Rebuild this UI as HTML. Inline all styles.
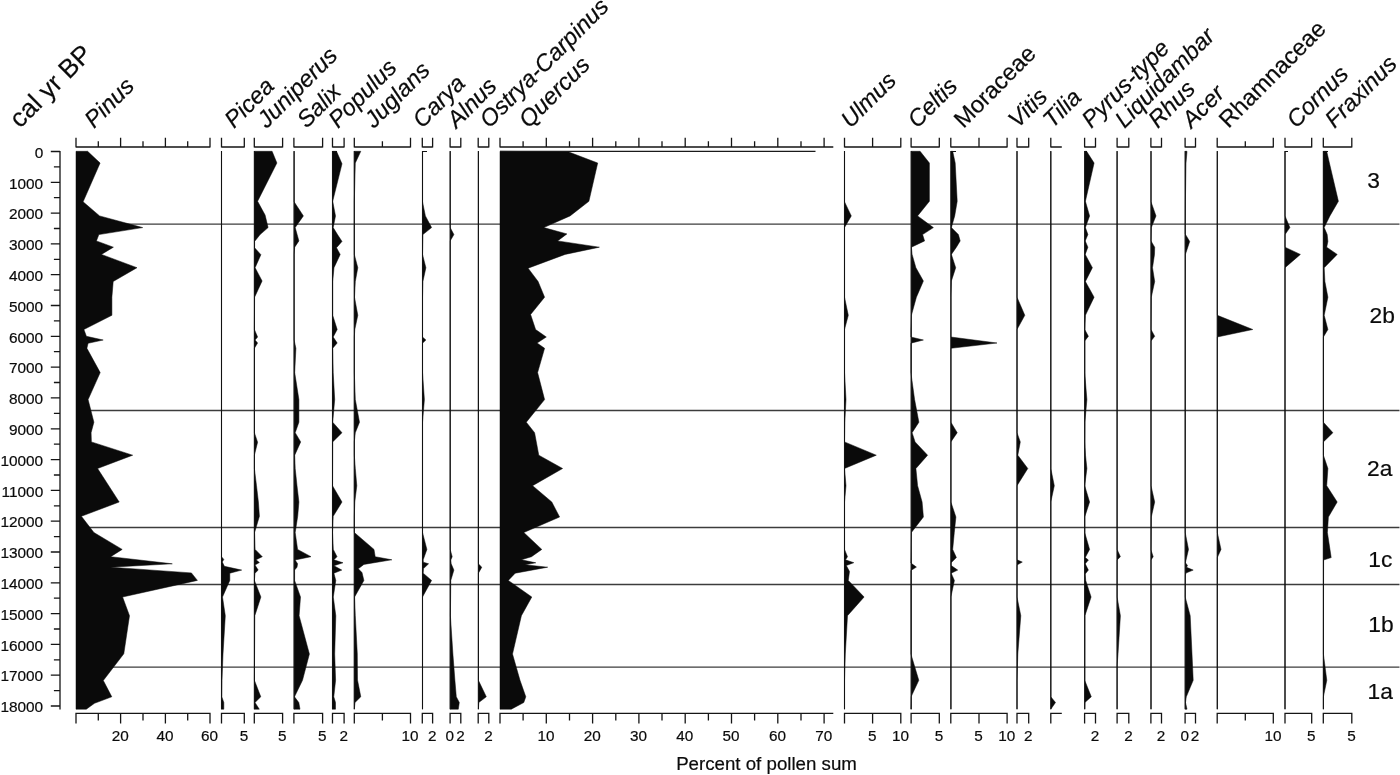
<!DOCTYPE html>
<html lang="en"><head><meta charset="utf-8"><title>Pollen percentage diagram</title>
<style>
html,body{margin:0;padding:0;background:#fff;}
body{width:1400px;height:775px;overflow:hidden;font-family:"Liberation Sans",sans-serif;}
svg{display:block;}
svg text{font-family:"Liberation Sans",sans-serif;fill:#0b0b0b;stroke:#0b0b0b;stroke-width:0.2px;}
.ax{stroke:#151515;stroke-width:1.3;fill:none;}
.bl{stroke:#111;stroke-width:1.1;fill:none;}
.zn{stroke:#3c3c3c;stroke-width:1.45;fill:none;}
.fl{fill:#0a0a0a;stroke:#0a0a0a;stroke-width:0.5;stroke-linejoin:miter;}
.num{font-size:15.3px;text-anchor:middle;}
.yl{font-size:15.4px;text-anchor:end;}
.zl{font-size:22.8px;text-anchor:middle;}
.tx{font-size:22px;}
.it{font-style:italic;}
</style></head><body>
<svg width="1400" height="775" viewBox="0 0 1400 775">
<rect x="0" y="0" width="1400" height="775" fill="#ffffff"/>
<g class="zn">
<path d="M76 224.1 H1399.5"/>
<path d="M76 410.4 H1399.5"/>
<path d="M76 527.5 H1399.5"/>
<path d="M76 584.5 H1399.5"/>
<path d="M76 667.1 H1399.5"/>
</g>
<g class="ax">
<path d="M60 150.9 V709.5 M50.8 151.5 H60 M53.9 166.9 H60 M50.8 182.3 H60 M53.9 197.7 H60 M50.8 213.1 H60 M53.9 228.5 H60 M50.8 243.9 H60 M53.9 259.3 H60 M50.8 274.7 H60 M53.9 290.1 H60 M50.8 305.5 H60 M53.9 320.9 H60 M50.8 336.3 H60 M53.9 351.7 H60 M50.8 367.1 H60 M53.9 382.5 H60 M50.8 397.9 H60 M53.9 413.3 H60 M50.8 428.8 H60 M53.9 444.2 H60 M50.8 459.6 H60 M53.9 475 H60 M50.8 490.4 H60 M53.9 505.8 H60 M50.8 521.2 H60 M53.9 536.6 H60 M50.8 552 H60 M53.9 567.4 H60 M50.8 582.8 H60 M53.9 598.2 H60 M50.8 613.6 H60 M53.9 629 H60 M50.8 644.4 H60 M53.9 659.8 H60 M50.8 675.2 H60 M53.9 690.6 H60 M50.8 706 H60"/>
</g>
<g class="yl">
<text x="43.2" y="157.7">0</text>
<text x="43.2" y="188.5">1000</text>
<text x="43.2" y="219.3">2000</text>
<text x="43.2" y="250.1">3000</text>
<text x="43.2" y="280.9">4000</text>
<text x="43.2" y="311.7">5000</text>
<text x="43.2" y="342.5">6000</text>
<text x="43.2" y="373.3">7000</text>
<text x="43.2" y="404.1">8000</text>
<text x="43.2" y="434.9">9000</text>
<text x="43.2" y="465.8">10000</text>
<text x="43.2" y="496.6">11000</text>
<text x="43.2" y="527.4">12000</text>
<text x="43.2" y="558.2">13000</text>
<text x="43.2" y="589">14000</text>
<text x="43.2" y="619.8">15000</text>
<text x="43.2" y="650.6">16000</text>
<text x="43.2" y="681.4">17000</text>
<text x="43.2" y="712.2">18000</text>
</g>
<path class="fl" d="M76 151.3 L87.6 151.3 L100.1 163 L83.1 201.8 L99.6 215.9 L142.7 227.6 L98.9 234.6 L96.4 240.9 L113.4 247.2 L101.4 254.4 L137 267.7 L113.2 281.5 L111.9 297.2 L111.9 315.3 L83.9 329.5 L86.4 336.3 L103.2 340 L88.1 343.3 L86.9 348.3 L100.2 372.6 L88.1 399.6 L93.9 422.2 L91.1 432.7 L91.4 441.9 L132.7 455.2 L97.6 468.5 L119.2 502 L81.4 516.3 L93.9 532.5 L122.2 549.4 L110.7 556.7 L172.3 563.8 L110.7 567.2 L191.4 572.9 L197.4 580.4 L122.6 597 L129.5 615.7 L123.8 653.8 L103.3 680.5 L111.8 696.8 L94.5 703.3 L86.3 709.2 L76 709.2 Z"/>
<path class="fl" d="M221.5 151.3 L221.5 151.3 L221.5 556.7 L223.8 559.4 L222.3 562 L224.4 566.3 L241.7 570.1 L229.8 573.2 L229.8 580.4 L222.5 597 L225.3 615.7 L223 654 L222 680.3 L221.8 696.8 L223.8 702.5 L223.8 709.2 L221.5 709.2 Z"/>
<path class="bl" d="M221.5 151 V709.2"/>
<path class="fl" d="M254.4 151.3 L272.1 151.3 L276.9 163 L257.6 201.3 L265.1 215.1 L268.1 227.6 L260.1 234.6 L254.6 241.4 L254.6 247.7 L260.9 254.7 L255.1 267.7 L262.1 281 L254.6 297.2 L254.4 329.5 L257.6 337 L255.1 340 L257.6 343 L254.4 348.3 L254.4 432.7 L257.6 442.2 L254.4 455.2 L254.4 468.5 L256.5 485.7 L258.4 502 L259.4 516.3 L254.6 532.5 L255.1 549.4 L262.3 556.7 L256 559.8 L259.4 562.5 L255 565 L258.2 570.1 L255 573.2 L254.4 580.4 L260.9 597 L254.8 615.7 L254.4 680.3 L260.8 696.8 L255 702.5 L259.3 709.2 L254.4 709.2 Z"/>
<path class="bl" d="M254.4 151 V709.2"/>
<path class="fl" d="M294.1 151.3 L294.1 151.3 L294.1 201.8 L303.4 215.9 L295.2 227.6 L298.9 240.9 L294.7 247.2 L294.1 254.4 L294.1 340 L295.9 348.3 L294.7 372.6 L298.9 399.6 L298.9 422.2 L295.2 432.7 L300.7 441.9 L294.7 455.2 L295.2 468.5 L297 485.7 L298.9 502 L297.7 516.3 L295.2 532.5 L297.6 549.4 L311 556.7 L295.1 560 L297.6 563.8 L297 567.2 L294.6 570.1 L294.6 580.4 L300.5 597 L299.1 615.7 L309.4 654 L302.5 680.3 L294.5 696.8 L298.8 702.5 L300 709.2 L294.1 709.2 Z"/>
<path class="bl" d="M294.1 151 V709.2"/>
<path class="fl" d="M332.5 151.3 L336.5 151.3 L342 163.8 L332.7 201.3 L335.5 215.9 L333.2 227.6 L337.5 234.6 L342 241.4 L336.5 247.7 L340.2 254.4 L334 267.7 L332.7 281.5 L332.7 315.3 L337.2 329.5 L333.2 337 L337.2 343 L332.7 348.3 L333.2 372.6 L334.7 399.6 L332.7 422.2 L342 432.7 L332.7 441.9 L332.5 485.7 L342 502 L333.2 516.3 L332.5 532.5 L333.3 549.4 L337 556.7 L333.9 559.8 L343 562.8 L333.9 565.7 L341.8 570.1 L333.9 573.2 L335.8 580.4 L333.3 597 L335.8 615.7 L334.7 654 L335.6 680.3 L333.8 696.8 L335.5 702.5 L335.5 709.2 L332.5 709.2 Z"/>
<path class="bl" d="M332.5 151 V709.2"/>
<path class="fl" d="M354.3 151.3 L360.8 151.3 L355.3 163 L354.3 201.8 L354.3 254.4 L357.8 267.7 L355.3 281.5 L354.5 297.2 L357.8 315.3 L354.8 329.5 L354.3 337 L354.3 372.6 L355.3 399.6 L359.5 422.2 L355.3 432.7 L354.3 441.9 L354.3 455.2 L355.3 468.5 L356.8 485.7 L354.8 502 L354.3 516.7 L354.3 532.5 L374 549.4 L375.2 556.7 L391.9 559.8 L363.9 564.4 L358.3 568.8 L362 572.6 L363.9 580.4 L354.6 597 L355.3 615.7 L357.3 654 L357.5 680 L360.8 696.8 L355 702.5 L354.3 709.2 L354.3 709.2 Z"/>
<path class="bl" d="M354.3 151 V709.2"/>
<path class="fl" d="M422.5 151.3 L422.5 151.3 L422.5 201.8 L425.4 215.9 L431.6 227.6 L422.9 234.6 L422.5 254.4 L425.9 267.7 L422.9 281.5 L422.5 297.2 L422.5 337 L425.9 340 L422.5 343.2 L422.5 372.6 L424.4 399.6 L422.5 422.2 L422.5 532.5 L426.9 549.4 L423.2 559.8 L423.3 562.2 L428.6 563.8 L423.5 568.6 L423.2 573.2 L431.6 580.4 L422.5 597 L422.5 709.2 L422.5 709.2 Z"/>
<path class="bl" d="M422.5 151 V709.2"/>
<path class="fl" d="M450.2 151.3 L450.2 151.3 L450.2 227.6 L453.9 234.6 L450.2 240.9 L450.2 549.4 L452.2 556.7 L450.8 560 L451.2 563.8 L453.9 570.1 L450.8 580.4 L450.4 615.7 L452.9 654 L454.9 680.3 L456.3 696.8 L459.3 702.5 L458.3 709.2 L450.2 709.2 Z"/>
<path class="bl" d="M450.2 151 V709.2"/>
<path class="fl" d="M478.4 151.3 L478.4 151.3 L478.4 563.8 L481.8 567.2 L478.4 573.2 L478.4 680.3 L486.3 696.8 L478.8 702.5 L478.4 709.2 L478.4 709.2 Z"/>
<path class="bl" d="M478.4 151 V709.2"/>
<path class="fl" d="M500 151.3 L568.9 152 L597.7 163 L588.9 201.3 L570.1 215.9 L543.8 227.6 L566.9 233.9 L557.6 240.9 L599.4 247.2 L565.1 254.4 L528.1 268.2 L538.1 281.5 L544.6 297.2 L530.6 314.5 L535.6 329.5 L546.3 337 L537.1 343 L544.6 348.3 L537.6 372.6 L544.6 399.6 L526.3 422.2 L534.6 432.7 L538.8 455.2 L562.6 468.5 L532.6 485.7 L551.8 502 L559.6 517 L523.8 532.5 L541.8 549.4 L531.5 556.7 L521.4 559.8 L535.8 562.8 L525.2 564.8 L547.7 567.2 L515.2 573.2 L508.3 580.4 L531.8 597 L521.4 615.7 L512.5 654 L520 680.3 L525.8 696.8 L523.8 702.5 L511.3 709.2 L500 709.2 Z"/>
<path class="fl" d="M844.5 151.3 L844.5 151.3 L844.5 201.8 L851.3 215.9 L844.5 227.6 L844.5 297.2 L848.3 315.3 L844.5 329.5 L844.5 372.6 L846 399.6 L844.8 422.2 L844.5 441.9 L876.3 455.2 L844.5 468.5 L846 485.7 L844.5 502 L844.5 549.4 L847.5 556.7 L845.5 559.8 L853.8 562.7 L846.3 565.5 L849.5 571.4 L848.3 580.4 L864.1 597 L847.5 615.7 L845.3 654 L844.5 680.3 L844.5 709.2 L844.5 709.2 Z"/>
<path class="bl" d="M844.5 151 V709.2"/>
<path class="fl" d="M911.2 151.3 L920.1 151.3 L929.4 163 L929.4 201.3 L917.6 215.9 L933.4 227.6 L922.6 234.6 L924.6 240.9 L911.4 247.2 L912.1 254.4 L915.9 267.7 L923.4 281 L916.4 297.2 L911.4 315.3 L910.9 329.5 L910.9 337 L923.4 340 L910.9 343.2 L910.9 372.6 L914.6 399.6 L918.9 422.2 L912.1 432.7 L915.1 441.9 L927.6 455.2 L915.9 468.5 L917.6 485.7 L922.1 502 L923.4 517 L911.4 532.5 L910.9 563 L916.4 567.1 L910.9 570.5 L910.9 654 L918.8 680.3 L911.1 696.8 L910.9 709.2 L911.2 709.2 Z"/>
<path class="bl" d="M911.2 151 V709.2"/>
<path class="fl" d="M950.9 151.3 L952.7 151.3 L955.2 163 L957.2 201.3 L954.7 215.9 L951.4 227.6 L958.4 234.6 L960.2 240.9 L956.4 247.2 L951.4 254.4 L955.7 267.7 L951.4 281 L950.9 297.2 L950.9 337 L997 343 L950.9 348.3 L950.9 422.2 L957.2 432.7 L950.9 441.9 L950.9 502 L955.9 517 L954.3 532.5 L952.7 549.4 L956.4 557.6 L951.2 562.7 L951.2 565.5 L957.7 570.1 L951.2 573.2 L954.4 580.4 L950.9 597 L950.9 709.2 L950.9 709.2 Z"/>
<path class="bl" d="M950.9 151 V709.2"/>
<path class="fl" d="M1017 151.3 L1017 151.3 L1017 297.2 L1024.8 315.3 L1017 329.5 L1017 432.7 L1020.3 441.9 L1017.8 455.2 L1027.8 468.5 L1017 485.7 L1017 559.8 L1022.3 562.1 L1017 565 L1017 597 L1020.8 615.7 L1017.8 654 L1017 680.3 L1017 709.2 L1017 709.2 Z"/>
<path class="bl" d="M1017 151 V709.2"/>
<path class="fl" d="M1050.8 151.3 L1050.8 151.3 L1050.8 468.5 L1054.3 485.7 L1050.8 502 L1050.8 696.8 L1055.5 702.5 L1050.8 709.2 L1050.8 709.2 Z"/>
<path class="bl" d="M1050.8 151 V709.2"/>
<path class="fl" d="M1084.7 151.3 L1086.6 151.3 L1094.1 163 L1085.4 201.3 L1089.6 215.9 L1085.4 227.6 L1087.9 234.6 L1085.2 240.9 L1087.9 247.2 L1085.2 254.4 L1092.4 267.7 L1085.4 281.5 L1094.1 297.2 L1085.4 315.3 L1084.7 329.5 L1088.4 336.3 L1084.7 341 L1084.7 372.6 L1086.9 399.6 L1084.9 422.2 L1084.7 441.9 L1085.5 455.2 L1086.9 468.5 L1084.7 485.7 L1089.6 502 L1084.7 517 L1084.7 532.5 L1089.6 549.4 L1085.2 557.6 L1088.4 560 L1085.2 563.8 L1088.4 570.1 L1085.2 574 L1085.7 580.4 L1091.1 597 L1084.9 615.7 L1084.7 680.3 L1091.3 696.8 L1084.9 702.5 L1084.7 709.2 L1084.7 709.2 Z"/>
<path class="bl" d="M1084.7 151 V709.2"/>
<path class="fl" d="M1117.1 151.3 L1117.1 151.3 L1117.1 549.4 L1120.4 556.7 L1117.1 560 L1117.1 597 L1120.4 615.7 L1118 654 L1117.1 665 L1117.1 709.2 L1117.1 709.2 Z"/>
<path class="bl" d="M1117.1 151 V709.2"/>
<path class="fl" d="M1151 151.3 L1151 151.3 L1151 201.8 L1156 215.9 L1151.3 227.6 L1151 240.9 L1154.7 247.2 L1154.5 254.4 L1152.5 267.7 L1154.7 281.5 L1151.3 297.2 L1151 329.5 L1154.7 336.3 L1151 341 L1151 485.7 L1154.7 502 L1151.3 517 L1151 550 L1153.2 556.7 L1151 560 L1151 709.2 L1151 709.2 Z"/>
<path class="bl" d="M1151 151 V709.2"/>
<path class="fl" d="M1185.2 151.3 L1187 151.3 L1186 163 L1185.4 201.8 L1185.2 234 L1189.7 241.4 L1185.4 254.4 L1185.2 532.5 L1188.5 549.4 L1185.4 562.7 L1187.5 565.5 L1186.5 567.3 L1193.2 570.1 L1186 573 L1185.4 575 L1185.2 597 L1190.2 615.7 L1192 654 L1193.2 680.3 L1186.3 696.8 L1185.5 702.5 L1187 709.2 L1185.2 709.2 Z"/>
<path class="bl" d="M1185.2 151 V709.2"/>
<path class="fl" d="M1217.3 151.3 L1217.3 151.3 L1217.3 315.3 L1252.8 329.5 L1217.3 337 L1217.3 532.5 L1221 549.4 L1217.3 557.6 L1217.3 709.2 L1217.3 709.2 Z"/>
<path class="bl" d="M1217.3 151 V709.2"/>
<path class="fl" d="M1285 151.3 L1285 151.3 L1285 215.9 L1289.9 227.6 L1285 234.6 L1285 247.2 L1300.4 254.4 L1285 267.7 L1285 709.2 L1285 709.2 Z"/>
<path class="bl" d="M1285 151 V709.2"/>
<path class="fl" d="M1323.4 151.3 L1326.7 151.3 L1329.4 163 L1338.4 201.3 L1329.9 215.9 L1324.2 227.6 L1327.2 234.6 L1327.9 241.4 L1326.7 247.2 L1337.2 254.4 L1324.2 267.7 L1324.9 281.5 L1327.9 297.2 L1324.2 315.3 L1327.9 329.5 L1323.4 337 L1323.4 422.2 L1332.9 432.7 L1323.4 441.9 L1323.4 455.2 L1327.9 468.5 L1326.7 485.7 L1337.2 502 L1328.4 517 L1327.4 532.5 L1331.2 557.6 L1323.6 560 L1323.4 654 L1326.8 680.3 L1323.4 696.8 L1323.4 709.2 L1323.4 709.2 Z"/>
<path class="bl" d="M1323.4 151 V709.2"/>
<path class="bl" d="M422.5 151.5 H427 M950.9 151.5 H956 M1285 151.5 H1288 M1323.4 151.5 H1328 M332.5 151.5 H337 M1084.7 151.5 H1087"/>
<path d="M500 150.7 H815.5 V151.9 H500 Z" fill="#1a1a1a"/>
<path class="ax" d="M76 147 H210 M76 147.5 V137.8 M98.3 147.5 V141.2 M120.6 147.5 V137.8 M143 147.5 V141.2 M165.4 147.5 V137.8 M187.7 147.5 V141.2 M210 147.5 V137.8 M221.5 147 H244.3 M221.5 147.5 V137.8 M244.3 147.5 V137.8 M254.3 147 H282.6 M254.3 147.5 V137.8 M282.6 147.5 V137.8 M293.9 147 H322.6 M293.9 147.5 V137.8 M322.6 147.5 V137.8 M332.5 147 H344.1 M332.5 147.5 V137.8 M344.1 147.5 V137.8 M354.3 147 H410.5 M354.3 147.5 V137.8 M382.4 147.5 V141.2 M410.5 147.5 V137.8 M422.3 147 H432.6 M422.3 147.5 V137.8 M432.6 147.5 V137.8 M450.1 147 H460.8 M450.1 147.5 V137.8 M460.8 147.5 V137.8 M478.2 147 H488.8 M478.2 147.5 V137.8 M488.8 147.5 V137.8 M500 147 H833.3 M500 147.5 V137.8 M523.1 147.5 V141.2 M546.3 147.5 V137.8 M569.5 147.5 V141.2 M592.6 147.5 V137.8 M615.8 147.5 V141.2 M638.9 147.5 V137.8 M662 147.5 V141.2 M685.2 147.5 V137.8 M708.4 147.5 V141.2 M731.5 147.5 V137.8 M754.6 147.5 V141.2 M777.8 147.5 V137.8 M801 147.5 V141.2 M824.1 147.5 V137.8 M844.5 147 H900.8 M844.5 147.5 V137.8 M872.6 147.5 V137.8 M900.8 147.5 V137.8 M911.1 147 H939.3 M911.1 147.5 V137.8 M939.3 147.5 V137.8 M950.8 147 H1007.1 M950.8 147.5 V137.8 M979 147.5 V137.8 M1007.1 147.5 V137.8 M1017 147 H1028.7 M1017 147.5 V137.8 M1028.7 147.5 V137.8 M1050.8 147 H1061.8 M1050.8 147.5 V137.8 M1084.6 147 H1095.5 M1084.6 147.5 V137.8 M1095.5 147.5 V137.8 M1117.1 147 H1128.8 M1117.1 147.5 V137.8 M1128.8 147.5 V137.8 M1150.9 147 H1161.5 M1150.9 147.5 V137.8 M1161.5 147.5 V137.8 M1185.1 147 H1195.5 M1185.1 147.5 V137.8 M1195.5 147.5 V137.8 M1217.2 147 H1273.3 M1217.2 147.5 V137.8 M1245.3 147.5 V141.2 M1273.3 147.5 V137.8 M1285 147 H1311.7 M1285 147.5 V137.8 M1311.7 147.5 V137.8 M1323.3 147 H1351.8 M1323.3 147.5 V137.8 M1351.8 147.5 V137.8"/>
<path class="ax" d="M76 713.3 H210 M76 712.8 V723.6 M98.3 712.8 V720.5 M120.6 712.8 V723.6 M143 712.8 V720.5 M165.4 712.8 V723.6 M187.7 712.8 V720.5 M210 712.8 V723.6 M221.5 713.3 H244.3 M221.5 712.8 V723.6 M244.3 712.8 V723.6 M254.3 713.3 H282.6 M254.3 712.8 V723.6 M282.6 712.8 V723.6 M293.9 713.3 H322.6 M293.9 712.8 V723.6 M322.6 712.8 V723.6 M332.5 713.3 H344.1 M332.5 712.8 V723.6 M344.1 712.8 V723.6 M354.3 713.3 H410.5 M354.3 712.8 V723.6 M382.4 712.8 V720.5 M410.5 712.8 V723.6 M422.3 713.3 H432.6 M422.3 712.8 V723.6 M432.6 712.8 V723.6 M450.1 713.3 H460.8 M450.1 712.8 V723.6 M460.8 712.8 V723.6 M478.2 713.3 H488.8 M478.2 712.8 V723.6 M488.8 712.8 V723.6 M500 713.3 H833.3 M500 712.8 V723.6 M523.1 712.8 V720.5 M546.3 712.8 V723.6 M569.5 712.8 V720.5 M592.6 712.8 V723.6 M615.8 712.8 V720.5 M638.9 712.8 V723.6 M662 712.8 V720.5 M685.2 712.8 V723.6 M708.4 712.8 V720.5 M731.5 712.8 V723.6 M754.6 712.8 V720.5 M777.8 712.8 V723.6 M801 712.8 V720.5 M824.1 712.8 V723.6 M844.5 713.3 H900.8 M844.5 712.8 V723.6 M872.6 712.8 V723.6 M900.8 712.8 V723.6 M911.1 713.3 H939.3 M911.1 712.8 V723.6 M939.3 712.8 V723.6 M950.8 713.3 H1007.1 M950.8 712.8 V723.6 M979 712.8 V723.6 M1007.1 712.8 V723.6 M1017 713.3 H1028.7 M1017 712.8 V723.6 M1028.7 712.8 V723.6 M1050.8 713.3 H1061.8 M1050.8 712.8 V723.6 M1084.6 713.3 H1095.5 M1084.6 712.8 V723.6 M1095.5 712.8 V723.6 M1117.1 713.3 H1128.8 M1117.1 712.8 V723.6 M1128.8 712.8 V723.6 M1150.9 713.3 H1161.5 M1150.9 712.8 V723.6 M1161.5 712.8 V723.6 M1185.1 713.3 H1195.5 M1185.1 712.8 V723.6 M1195.5 712.8 V723.6 M1217.2 713.3 H1273.3 M1217.2 712.8 V723.6 M1245.3 712.8 V720.5 M1273.3 712.8 V723.6 M1285 713.3 H1311.7 M1285 712.8 V723.6 M1311.7 712.8 V723.6 M1323.3 713.3 H1351.8 M1323.3 712.8 V723.6 M1351.8 712.8 V723.6"/>
<g class="num">
<text x="120.2" y="741.4">20</text>
<text x="165" y="741.4">40</text>
<text x="209.6" y="741.4">60</text>
<text x="243.9" y="741.4">5</text>
<text x="282.2" y="741.4">5</text>
<text x="322.2" y="741.4">5</text>
<text x="343.7" y="741.4">2</text>
<text x="410.1" y="741.4">10</text>
<text x="432.2" y="741.4">2</text>
<text x="449.7" y="741.4">0</text>
<text x="460.4" y="741.4">2</text>
<text x="488.4" y="741.4">2</text>
<text x="545.9" y="741.4">10</text>
<text x="592.2" y="741.4">20</text>
<text x="638.5" y="741.4">30</text>
<text x="684.8" y="741.4">40</text>
<text x="731.1" y="741.4">50</text>
<text x="777.4" y="741.4">60</text>
<text x="823.7" y="741.4">70</text>
<text x="872.2" y="741.4">5</text>
<text x="900.4" y="741.4">10</text>
<text x="938.9" y="741.4">5</text>
<text x="978.6" y="741.4">5</text>
<text x="1006.7" y="741.4">10</text>
<text x="1028.3" y="741.4">2</text>
<text x="1095.1" y="741.4">2</text>
<text x="1128.4" y="741.4">2</text>
<text x="1161.1" y="741.4">2</text>
<text x="1184.7" y="741.4">0</text>
<text x="1195.1" y="741.4">2</text>
<text x="1272.9" y="741.4">10</text>
<text x="1311.3" y="741.4">5</text>
<text x="1351.4" y="741.4">5</text>
</g>
<g class="zl">
<text x="1373.6" y="188.4">3</text>
<text x="1382.2" y="323.1">2b</text>
<text x="1379.7" y="475.8">2a</text>
<text x="1380.3" y="566.8">1c</text>
<text x="1381" y="631.9">1b</text>
<text x="1380.3" y="699.3">1a</text>
</g>
<text class="tx" style="font-size:26px" transform="translate(20 129) rotate(-45)">cal yr BP</text>
<text class="tx it" style="font-size:23.5px" transform="translate(94 129) rotate(-45)">Pinus</text>
<text class="tx it" style="font-size:23.5px" transform="translate(234 129) rotate(-45)">Picea</text>
<text class="tx it" style="font-size:23.5px" transform="translate(266.7 129) rotate(-45)">Juniperus</text>
<text class="tx it" style="font-size:23.5px" transform="translate(306.4 129) rotate(-45)">Salix</text>
<text class="tx it" style="font-size:23.5px" transform="translate(338 129) rotate(-45)">Populus</text>
<text class="tx it" style="font-size:23.5px" transform="translate(374 129) rotate(-45)">Juglans</text>
<text class="tx it" style="font-size:23.5px" transform="translate(422.2 129) rotate(-45)">Carya</text>
<text class="tx it" style="font-size:23.5px" transform="translate(456.6 129) rotate(-45)">Alnus</text>
<text class="tx it" style="font-size:23.5px" transform="translate(489.2 129) rotate(-45)">Ostrya-Carpinus</text>
<text class="tx it" style="font-size:23.5px" transform="translate(528.6 129) rotate(-45)">Quercus</text>
<text class="tx it" style="font-size:23.5px" transform="translate(850.4 129) rotate(-45)">Ulmus</text>
<text class="tx it" style="font-size:23.5px" transform="translate(917.2 129) rotate(-45)">Celtis</text>
<text class="tx" style="font-size:23.5px" transform="translate(963.4 129) rotate(-45)">Moraceae</text>
<text class="tx it" style="font-size:23.5px" transform="translate(1017.7 129) rotate(-45)">Vitis</text>
<text class="tx it" style="font-size:23.5px" transform="translate(1052.4 129) rotate(-45)">Tilia</text>
<text class="tx it" style="font-size:23.5px" transform="translate(1091.2 129) rotate(-45)">Pyrus-type</text>
<text class="tx it" style="font-size:23.5px" transform="translate(1124.5 129) rotate(-45)">Liquidambar</text>
<text class="tx it" style="font-size:23.5px" transform="translate(1157.7 129) rotate(-45)">Rhus</text>
<text class="tx it" style="font-size:23.5px" transform="translate(1191.5 129) rotate(-45)">Acer</text>
<text class="tx" style="font-size:23.5px" transform="translate(1228.5 129) rotate(-45)">Rhamnaceae</text>
<text class="tx it" style="font-size:23.5px" transform="translate(1296.2 129) rotate(-45)">Cornus</text>
<text class="tx it" style="font-size:23.5px" transform="translate(1334.6 129) rotate(-45)">Fraxinus</text>
<text x="766.5" y="769.6" style="font-size:18.7px;text-anchor:middle">Percent of pollen sum</text>
</svg>
</body></html>
